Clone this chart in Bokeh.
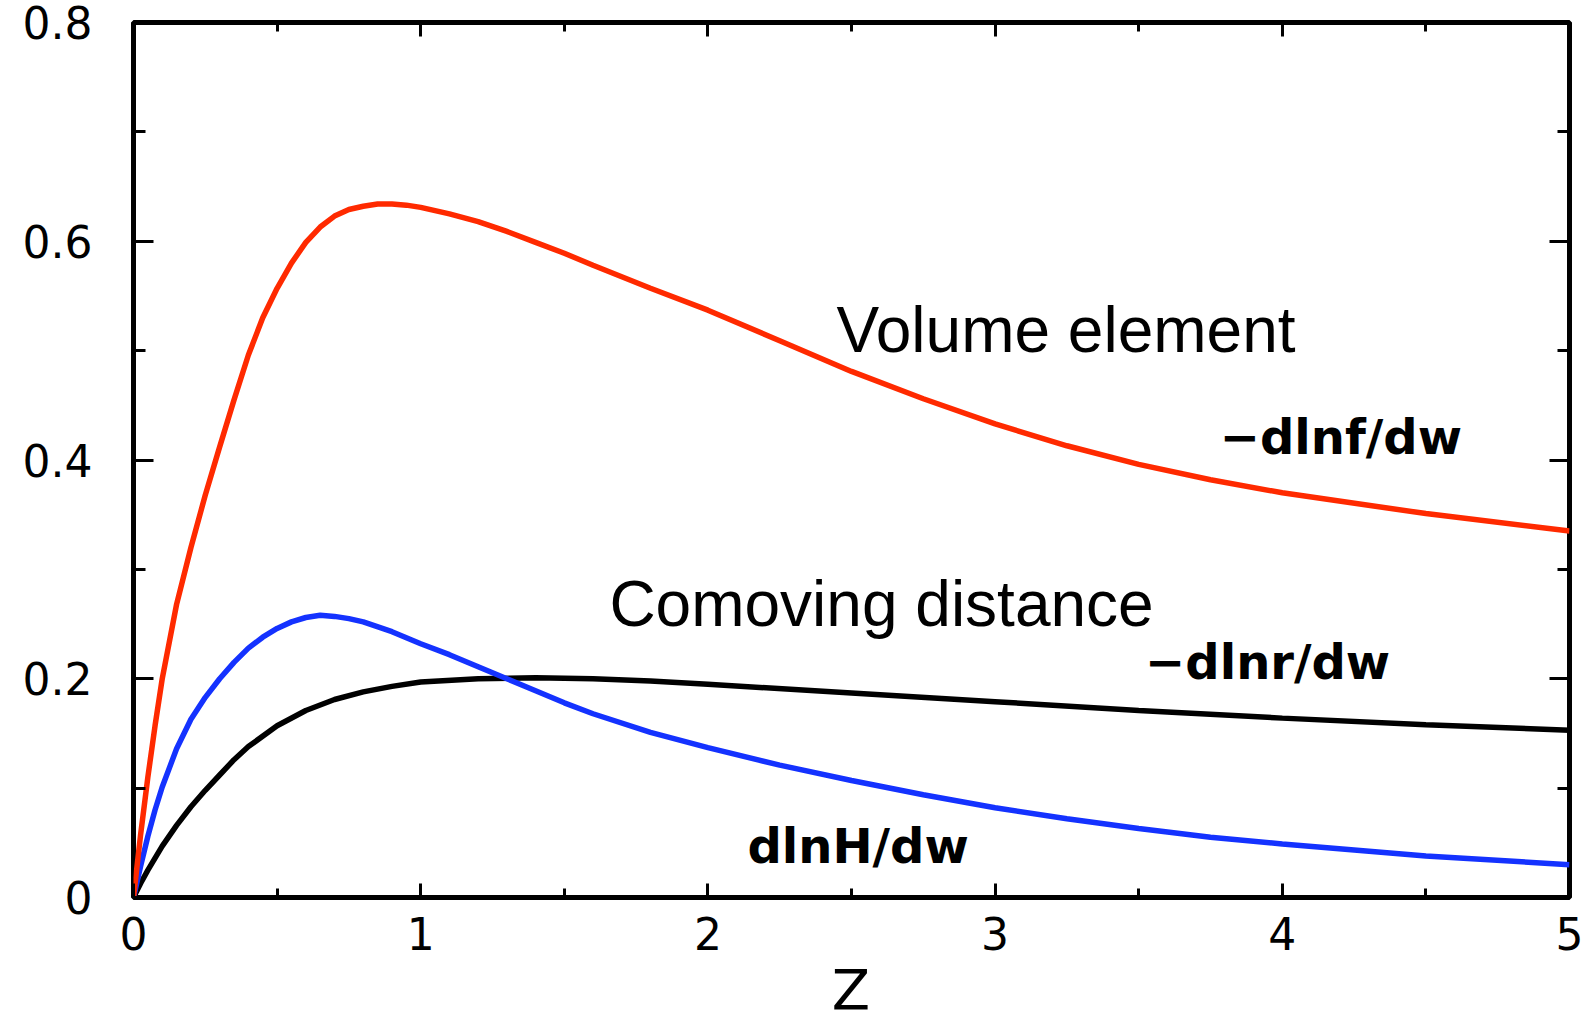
from bokeh.plotting import figure
from bokeh.models import FixedTicker, LinearAxis, Label, Div
from bokeh.layouts import column
from bokeh.embed import file_html
from bokeh.resources import INLINE

# ---------------- data ----------------
z_red = [0, 0.025, 0.05, 0.075, 0.1, 0.15, 0.2, 0.25, 0.3, 0.35, 0.4, 0.45, 0.5, 0.55, 0.6,
         0.65, 0.7, 0.75, 0.8, 0.85, 0.9, 0.95, 1.0, 1.1, 1.2, 1.3, 1.4, 1.5, 1.6, 1.8, 2.0,
         2.25, 2.5, 2.75, 3.0, 3.25, 3.5, 3.75, 4.0, 4.5, 5.0]
dlnf_dw = [0, 0.058, 0.11, 0.157, 0.20, 0.268, 0.32, 0.368, 0.412, 0.455, 0.496, 0.53, 0.557, 0.58, 0.599,
           0.613, 0.623, 0.629, 0.632, 0.634, 0.634, 0.633, 0.631, 0.625, 0.618, 0.609, 0.599, 0.589, 0.578, 0.557, 0.537,
           0.509, 0.481, 0.456, 0.433, 0.413, 0.396, 0.382, 0.370, 0.351, 0.335]

z_blue = [0, 0.025, 0.05, 0.075, 0.1, 0.15, 0.2, 0.25, 0.3, 0.35, 0.4, 0.45, 0.5, 0.55, 0.6,
          0.65, 0.7, 0.75, 0.8, 0.9, 1.0, 1.1, 1.2, 1.3, 1.4, 1.5, 1.6, 1.8, 2.0,
          2.25, 2.5, 2.75, 3.0, 3.25, 3.5, 3.75, 4.0, 4.5, 5.0]
dlnH_dw = [0, 0.029, 0.056, 0.080, 0.101, 0.136, 0.163, 0.183, 0.200, 0.215, 0.228, 0.238, 0.246, 0.252, 0.256,
           0.258, 0.257, 0.255, 0.252, 0.243, 0.232, 0.222, 0.211, 0.200, 0.189, 0.178, 0.168, 0.151, 0.137,
           0.121, 0.107, 0.094, 0.082, 0.072, 0.063, 0.055, 0.049, 0.038, 0.030]

z_black = [0, 0.025, 0.05, 0.1, 0.15, 0.2, 0.25, 0.3, 0.35, 0.4, 0.5, 0.6, 0.7, 0.8, 0.9, 1.0,
           1.2, 1.4, 1.6, 1.8, 2.0, 2.5, 3.0, 3.5, 4.0, 4.5, 5.0]
dlnr_dw = [0, 0.013, 0.025, 0.047, 0.066, 0.083, 0.098, 0.112, 0.126, 0.138, 0.157, 0.171, 0.181, 0.188, 0.193, 0.197,
           0.200, 0.201, 0.200, 0.198, 0.195, 0.187, 0.179, 0.171, 0.164, 0.158, 0.153]

x_ticks = [0, 1, 2, 3, 4, 5]
x_minor = [0.5, 1.5, 2.5, 3.5, 4.5]
y_ticks = [0, 0.2, 0.4, 0.6, 0.8]
y_minor = [0.1, 0.3, 0.5, 0.7]
y_tick_labels = {0: "0", 0.2: "0.2", 0.4: "0.4", 0.6: "0.6", 0.8: "0.8"}
x_tick_labels = {0: "0", 1: "1", 2: "2", 3: "3", 4: "4", 5: "5"}
x_title = "Z"

plain_texts = ["Volume element", "Comoving distance"]
plain_x = [2.448, 1.657]
plain_y = [0.519, 0.268]
bold_texts = ["\u2212dlnf/dw", "\u2212dlnr/dw", "dlnH/dw"]
bold_x = [4.204, 3.949, 2.523]
bold_y = [0.421, 0.215, 0.047]

# ---------------- figure ----------------
W, H_PLOT, H_TITLE = 1583, 968, 45
p = figure(width=W, height=H_PLOT, x_range=(0, 5), y_range=(0, 0.8),
           output_backend="svg", toolbar_location=None,
           min_border_left=133, min_border_right=14,
           min_border_top=22, min_border_bottom=H_PLOT - 897, margin=0)
p.grid.visible = False
p.outline_line_color = "black"
p.outline_line_width = 5
p.background_fill_color = "white"
p.border_fill_color = "white"

p.line(z_black, dlnr_dw, line_color="black", line_width=5.5)
p.line(z_blue, dlnH_dw, line_color="#1432ff", line_width=5.5)
p.line(z_red, dlnf_dw, line_color="#ff2a00", line_width=5.5)


def style_axis(ax, major_in, minor_in):
    ax.axis_line_color = None
    ax.major_tick_in = major_in
    ax.major_tick_out = 0
    ax.minor_tick_in = minor_in
    ax.minor_tick_out = 0
    ax.major_tick_line_width = 3
    ax.minor_tick_line_width = 3
    ax.major_tick_line_color = "black"
    ax.minor_tick_line_color = "black"


xa = p.xaxis[0]
xa.ticker = FixedTicker(ticks=x_ticks, minor_ticks=x_minor)
xa.major_label_overrides = x_tick_labels
style_axis(xa, 14, 9)
xa.major_label_text_font = "DejaVu Sans"
xa.major_label_text_font_size = "44px"
xa.major_label_text_color = "black"
xa.major_label_standoff = 19

ya = p.yaxis[0]
ya.ticker = FixedTicker(ticks=y_ticks, minor_ticks=y_minor)
ya.major_label_overrides = y_tick_labels
style_axis(ya, 20, 12)
ya.major_label_text_font = "DejaVu Sans"
ya.major_label_text_font_size = "44px"
ya.major_label_text_color = "black"
ya.major_label_standoff = 41

top = LinearAxis(ticker=FixedTicker(ticks=x_ticks, minor_ticks=x_minor),
                 major_label_overrides={t: "" for t in x_ticks},
                 major_label_text_font_size="0px", major_label_standoff=0)
style_axis(top, 14, 9)
p.add_layout(top, "above")

right = LinearAxis(ticker=FixedTicker(ticks=y_ticks, minor_ticks=y_minor),
                   major_label_overrides={t: "" for t in y_ticks},
                   major_label_text_font_size="0px", major_label_standoff=0)
style_axis(right, 20, 12)
p.add_layout(right, "right")

for t, x, y in zip(plain_texts, plain_x, plain_y):
    p.add_layout(Label(x=x, y=y, text=t, text_align="left", text_baseline="alphabetic",
                       text_font="Liberation Sans", text_font_size="64px", text_color="black"))

for t, x, y in zip(bold_texts, bold_x, bold_y):
    p.add_layout(Label(x=x, y=y, text=t, text_align="center", text_baseline="alphabetic",
                       text_font="DejaVu Sans", text_font_style="bold",
                       text_font_size="48px", text_color="black"))

# x-axis title "Z", centred under the plot frame (frame centre at x = 851 px)
z_title = Div(
    text=('<div style="position:relative; top:-1px; margin-left:813px; width:76px; '
          'text-align:center; font-family:\'DejaVu Sans\'; font-size:56px; '
          'line-height:45px; color:black;">' + x_title + '</div>'),
    width=W, height=H_TITLE, margin=0,
    styles={"overflow": "visible", "background-color": "white"})

root = column(p, z_title, spacing=0, margin=0)

open("out.html", "w").write(file_html(root, INLINE))
